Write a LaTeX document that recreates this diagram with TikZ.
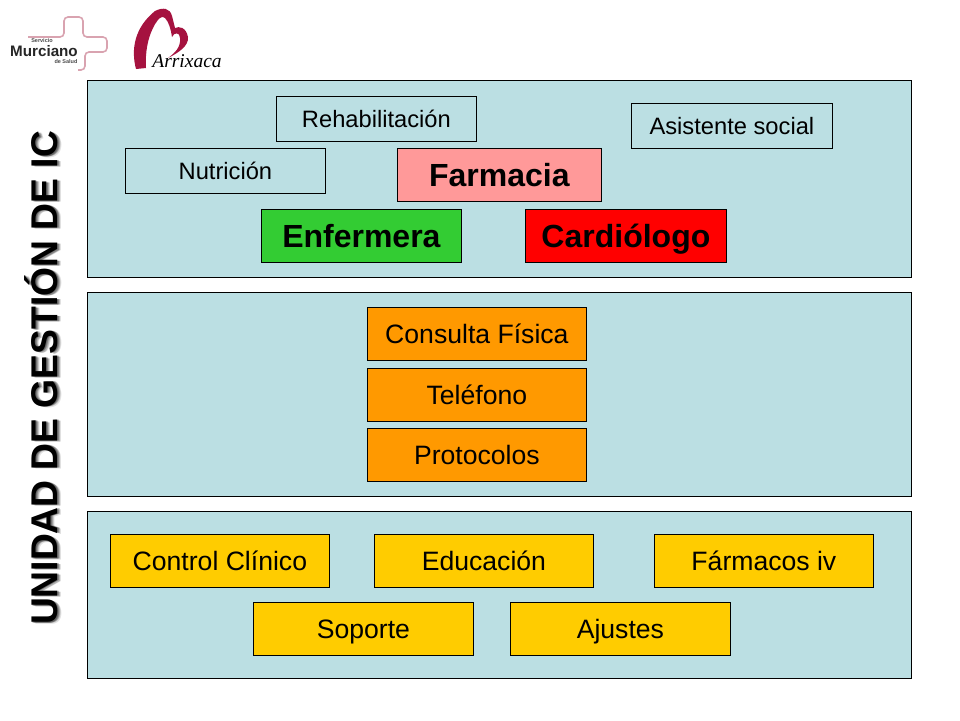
\documentclass[tikz,border=0pt]{standalone}
\usepackage{fontspec}
\setmainfont{Liberation Sans}
\newfontfamily\logofont{Liberation Serif}
\definecolor{panel}{HTML}{BBDFE3}
\definecolor{dkorange}{HTML}{FF9900}
\definecolor{ambar}{HTML}{FFCC00}
\definecolor{rosa}{HTML}{FF9999}
\definecolor{verde}{HTML}{33CC33}
\definecolor{logored}{HTML}{A5123F}
\definecolor{logopink}{HTML}{D9A3B0}
\tikzset{x=1pt,y=-1pt,
  panelbox/.style={draw=black,line width=0.8pt,fill=panel},
  bx/.style n args={2}{draw=black,line width=0.8pt,inner sep=0pt,anchor=north west,align=center,minimum width=#1pt,minimum height=#2pt,text depth=0pt},
  small/.style={font=\fontsize{23.7}{26}\selectfont,text height=17pt},
  mid/.style={font=\fontsize{26.6}{30}\selectfont,text height=19.2pt},
  big/.style={font=\fontsize{32}{36}\selectfont\bfseries,text height=23pt},
  titlefont/.style={rotate=90,font=\fontsize{37.2}{40}\selectfont\bfseries}}
\begin{document}
\begin{tikzpicture}
\useasboundingbox (0,0) rectangle (960,720);
\fill[white] (0,0) rectangle (960,720);
\draw[panelbox] (87.5,80.5) rectangle (911.5,277.5);
\draw[panelbox] (87.5,292.5) rectangle (911.5,496.5);
\draw[panelbox] (87.5,511.5) rectangle (911.5,678.5);
\node[bx={200}{45},small] (reh) at (276,96) {Rehabilitación};
\node[bx={201}{45},small] (asi) at (631,103) {Asistente social};
\node[bx={200}{45},small] (nut) at (125,148) {Nutrición};
\node[bx={204}{53},big,fill=rosa] (far) at (397,148) {Farmacia};
\node[bx={200}{53},big,fill=verde] (enf) at (261,209) {Enfermera};
\node[bx={201}{53},big,fill=red] (car) at (525,209) {Cardiólogo};
\node[bx={219}{53},mid,fill=dkorange] (con) at (367,307) {Consulta Física};
\node[bx={219}{53},mid,fill=dkorange] (tel) at (367,368) {Teléfono};
\node[bx={219}{53},mid,fill=dkorange] (pro) at (367,428) {Protocolos};
\node[bx={219}{53},mid,fill=ambar] (cc) at (110,534) {Control Clínico};
\node[bx={219}{53},mid,fill=ambar] (edu) at (374,534) {Educación};
\node[bx={219}{53},mid,fill=ambar] (fi) at (654,534) {Fármacos iv};
\node[bx={220}{53},mid,fill=ambar] (sop) at (253,602) {Soporte};
\node[bx={220}{53},mid,fill=ambar] (aju) at (510,602) {Ajustes};
% title
\foreach \d/\o in {1/.25,2/.25,3/.2,4/.12}
  \node[titlefont,text=black,opacity=\o] at (41+\d,378+\d*.3) {UNIDAD DE GESTIÓN DE IC};
\node[titlefont] (tit) at (41,378) {UNIDAD DE GESTIÓN DE IC};
% SMS logo
\draw[logopink,line width=1.6pt,rounded corners=4pt] (28,37) -- (64,37) -- (64,17) -- (83,17) -- (83,37) -- (107,37) -- (107,52) -- (85,52) -- (85,70) -- (78,70);
\node[font=\fontsize{5.5}{6}\selectfont\bfseries,text=black!70] (serv) at (42,41) {Servicio};
\node[font=\fontsize{15.2}{16}\selectfont\bfseries,text=black!85] (murc) at (44,51) {Murciano};
\node[font=\fontsize{5.5}{6}\selectfont\bfseries,text=black!70] (sal) at (66,62) {de Salud};
% Arrixaca logo
\fill[logored] (136,69) .. controls (131,50) and (134,28) .. (155,11) .. controls (163,7) and (170,8) .. (172,16) .. controls (173,20) and (174,24) .. (175,28) .. controls (179,26) and (186,27) .. (188,37) .. controls (189,46) and (178,53) .. (168,58) .. controls (175,53) and (181,47) .. (180,38) .. controls (180,32) and (174,32) .. (172,37) .. controls (171,30) and (169,22) .. (165,18) .. controls (160,14) and (155,24) .. (153,28) .. controls (148,38) and (145,52) .. (146,68) -- cycle;
\node[font=\fontsize{19.5}{20}\selectfont\logofont\itshape] (arr) at (187,61) {Arrixaca};
\end{tikzpicture}
\end{document}
